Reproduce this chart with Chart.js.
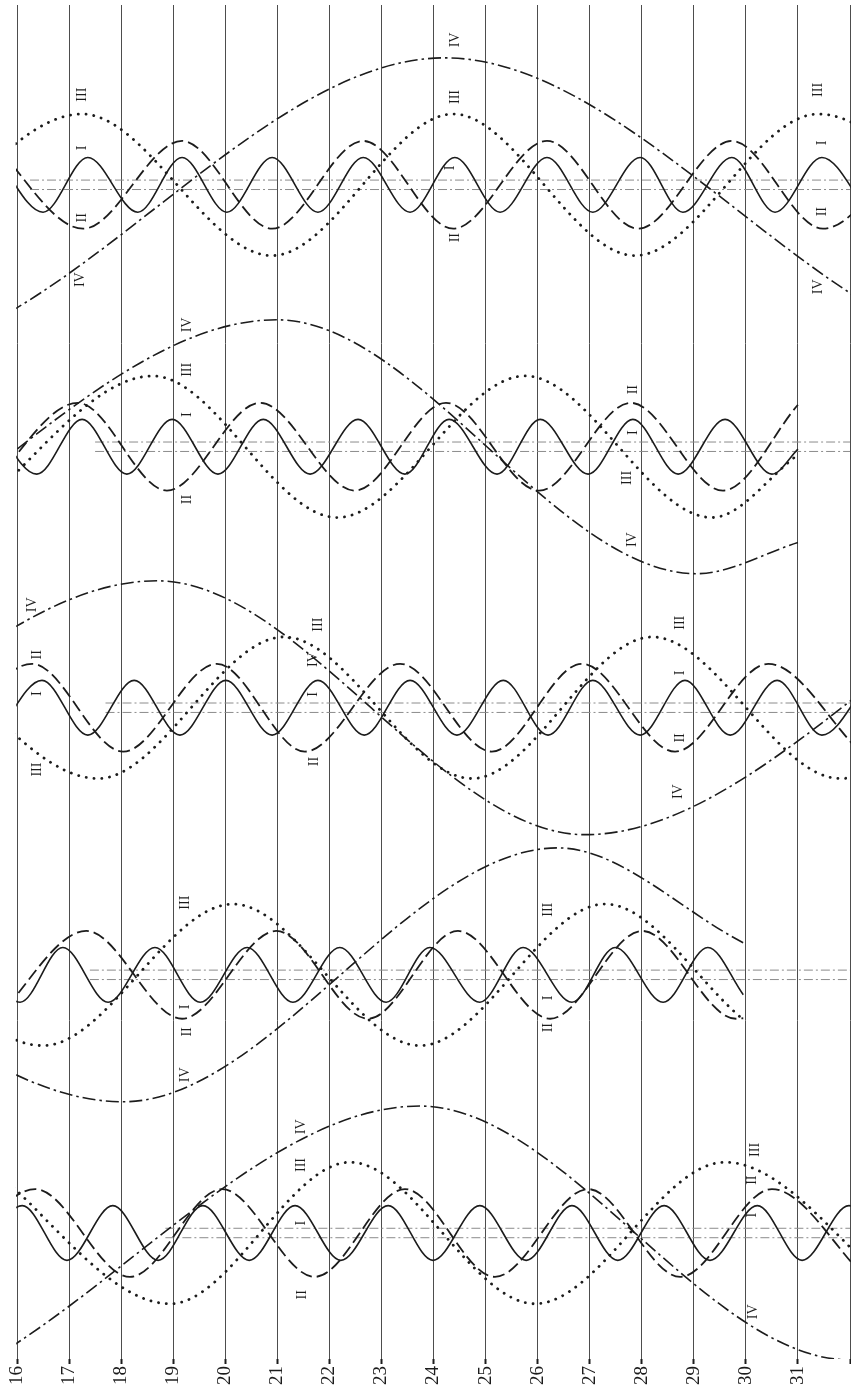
<!DOCTYPE html>
<html><head><meta charset="utf-8">
<script src="https://cdn.jsdelivr.net/npm/chart.js@4.4.1/dist/chart.umd.min.js"></script>
<style>html,body{margin:0;padding:0;background:#fff;}#wrap{width:851px;height:1389px;}</style>
</head><body><div id="wrap"><canvas id="c" width="851" height="1389"></canvas></div>
<script>
// Days of the month along the horizontal axis
const dayTicks = [16,17,18,19,20,21,22,23,24,25,26,27,28,29,30,31,32];
const dayLabels = ['16','17','18','19','20','21','22','23','24','25','26','27','28','29','30','31',''];

// Each series: [day, elongation in Jupiter radii] read at maxima/minima (and ends)
const band1I = [[15.60,5.8],[16.50,-5.8],[17.36,5.8],[18.32,-5.8],[19.17,5.8],[20.03,-5.8],[20.90,5.8],[21.78,-5.8],[22.65,5.8],[23.55,-5.8],[24.41,5.8],[25.28,-5.8],[26.18,5.8],[27.06,-5.8],[27.97,5.8],[28.79,-5.8],[29.73,5.8],[30.56,-5.8],[31.46,5.8],[32.35,-5.8]];
const band1II = [[15.50,9.3],[17.27,-9.3],[19.17,9.3],[20.90,-9.3],[22.65,9.3],[24.38,-9.3],[26.18,9.3],[27.93,-9.3],[29.73,9.3],[31.48,-9.3],[33.25,9.3]];
const band1III = [[13.68,-15.0],[17.25,15.0],[20.90,-15.0],[24.38,15.0],[27.87,-15.0],[31.39,15.0],[34.96,-15.0]];
const band1IV = [[15.87,-26.9],[24.22,26.9],[32.58,-26.9]];

const band2I = [[15.50,5.8],[16.38,-5.8],[17.25,5.8],[18.11,-5.8],[18.98,5.8],[19.86,-5.8],[20.73,5.8],[21.63,-5.8],[22.55,5.8],[23.45,-5.8],[24.30,5.8],[25.22,-5.8],[26.05,5.8],[26.97,-5.8],[27.83,5.8],[28.70,-5.8],[29.60,5.8],[30.50,-5.8],[31.00,-0.5]];
const band2II = [[15.40,-9.3],[17.17,9.3],[18.88,-9.3],[20.67,9.3],[22.49,-9.3],[24.24,9.3],[26.03,-9.3],[27.79,9.3],[29.56,-9.3],[31.00,8.9]];
const band2III = [[15.04,-15.0],[18.61,15.0],[22.15,-15.0],[25.76,15.0],[29.35,-15.0],[31.00,-1.7]];
const band2IV = [[12.73,-26.9],[20.99,26.9],[29.06,-26.9],[31.00,-20.3]];

const band3I = [[15.60,-5.8],[16.48,5.8],[17.36,-5.8],[18.25,5.8],[19.13,-5.8],[20.01,5.8],[20.90,-5.8],[21.78,5.8],[22.67,-5.8],[23.55,5.8],[24.45,-5.8],[25.34,5.8],[26.20,-5.8],[27.06,5.8],[27.97,-5.8],[28.83,5.8],[29.70,-5.8],[30.60,5.8],[31.46,-5.8],[32.37,5.8]];
const band3II = [[14.52,-9.3],[16.29,9.3],[18.04,-9.3],[19.84,9.3],[21.53,-9.3],[23.36,9.3],[25.12,-9.3],[26.85,9.3],[28.64,-9.3],[30.43,9.3],[32.19,-9.3]];
const band3III = [[13.98,15.0],[17.56,-15.0],[21.13,15.0],[24.74,-15.0],[28.20,15.0],[31.81,-15.0],[35.40,15.0]];
const band3IV = [[10.43,-26.9],[18.69,26.9],[26.91,-26.9],[35.17,26.9]];

const band4I = [[15.19,5.8],[16.06,-5.8],[16.88,5.8],[17.75,-5.8],[18.65,5.8],[19.52,-5.8],[20.42,5.8],[21.30,-5.8],[22.20,5.8],[23.09,-5.8],[23.93,5.8],[24.89,-5.8],[25.72,5.8],[26.66,-5.8],[27.49,5.8],[28.41,-5.8],[29.27,5.8],[29.95,-4.2]];
const band4II = [[15.60,-9.3],[17.33,9.3],[19.17,-9.3],[20.98,9.3],[22.74,-9.3],[24.47,9.3],[26.24,-9.3],[28.01,9.3],[29.81,-9.3],[29.95,-9.2]];
const band4III = [[12.93,15.0],[16.50,-15.0],[20.15,15.0],[23.74,-15.0],[27.30,15.0],[29.95,-9.5]];
const band4IV = [[9.68,26.9],[18.04,-26.9],[26.39,26.9],[29.95,6.8]];

const band5I = [[15.23,-5.8],[16.10,5.8],[16.96,-5.8],[17.84,5.8],[18.71,-5.8],[19.57,5.8],[20.46,-5.8],[21.34,5.8],[22.22,-5.8],[23.13,5.8],[23.99,-5.8],[24.89,5.8],[25.78,-5.8],[26.66,5.8],[27.54,-5.8],[28.43,5.8],[29.31,-5.8],[30.22,5.8],[31.08,-5.8],[31.98,5.8],[32.87,-5.8]];
const band5II = [[14.58,-9.3],[16.35,9.3],[18.17,-9.3],[19.94,9.3],[21.72,-9.3],[23.45,9.3],[25.18,-9.3],[26.97,9.3],[28.74,-9.3],[30.50,9.3],[32.29,-9.3]];
const band5III = [[15.37,15.0],[18.94,-15.0],[22.40,15.0],[25.95,-15.0],[29.60,15.0],[33.17,-15.0]];
const band5IV = [[15.48,-26.9],[23.74,26.9],[32.00,-26.9],[40.30,26.9]];

// Jupiter's disk (limb lines at +/-1 radius): start/end day of the drawn line per band
const diskStart = [16.25, 17.5, 17.7, 17.4, 18.85];
const diskEnd = [32, 32, 32, 32, 32];

// Satellite labels: [numeral, day, elongation]
const labels1 = [['III',17.25,19.1],['I',17.25,7.8],['II',17.25,-7.0],['IV',17.21,-20.1],['IV',24.41,30.7],['III',24.41,18.6],['I',24.32,3.6],['II',24.41,-11.2],['III',31.39,20.1],['I',31.46,8.9],['II',31.46,-5.7],['IV',31.39,-21.6]];
const labels2 = [['IV',19.27,25.8],['III',19.27,16.3],['I',19.27,6.8],['II',19.27,-11.2],['II',27.83,12.1],['I',27.83,3.0],['III',27.72,-6.6],['IV',27.81,-19.7]];
const labels3 = [['IV',16.29,21.8],['II',16.40,11.2],['I',16.40,3.0],['III',16.40,-13.1],['III',21.78,17.6],['IV',21.69,10.2],['I',21.69,2.8],['II',21.72,-11.4],['III',28.74,18.0],['I',28.74,7.4],['II',28.74,-6.4],['IV',28.70,-17.8]];
const labels4 = [['III',19.23,15.3],['I',19.23,-6.8],['II',19.28,-12.1],['IV',19.23,-21.2],['III',26.20,13.8],['I',26.20,-4.9],['II',26.20,-11.2]];
const labels5 = [['IV',21.47,22.5],['III',21.47,14.4],['I',21.47,2.1],['II',21.49,-13.1],['III',30.18,17.6],['II',30.12,11.2],['I',30.12,3.8],['IV',30.14,-16.7]];

// ---- layout (positions / styles) ----
const bandCenter = [-38.1, -93.6, -148.9, -205.5, -260.2];
const Y_MIN = -286.9, Y_MAX = 0;
const INK = '#1c1c1c';
const styles = {
  I:   {borderDash: [], borderWidth: 1.6, borderCapStyle: 'butt'},
  II:  {borderDash: [12,5], borderWidth: 1.8, borderCapStyle: 'butt'},
  III: {borderDash: [0.1,7.7], borderWidth: 2.8, borderCapStyle: 'round'},
  IV:  {borderDash: [13,4,2.5,4], borderWidth: 1.6, borderCapStyle: 'butt'}
};

const bands = [
  {I: band1I, II: band1II, III: band1III, IV: band1IV, labels: labels1},
  {I: band2I, II: band2II, III: band2III, IV: band2IV, labels: labels2},
  {I: band3I, II: band3II, III: band3III, IV: band3IV, labels: labels3},
  {I: band4I, II: band4II, III: band4III, IV: band4IV, labels: labels4},
  {I: band5I, II: band5II, III: band5III, IV: band5IV, labels: labels5}
];

const datasets = [];
bands.forEach((b, bi) => {
  ['I','II','III','IV'].forEach(s => {
    datasets.push(Object.assign({
      label: 'Band ' + (bi+1) + ' ' + s,
      data: b[s].map(p => ({x: p[0], y: bandCenter[bi] + p[1]})),
      borderColor: INK,
      pointRadius: 0,
      fill: false,
      cubicInterpolationMode: 'monotone'
    }, styles[s]));
  });
});
bands.forEach((b, bi) => {
  [1, -1].forEach(sg => {
    datasets.push({
      label: 'disk ' + (bi+1),
      data: [{x: diskStart[bi], y: bandCenter[bi] + sg}, {x: diskEnd[bi], y: bandCenter[bi] + sg}],
      borderColor: '#8c8c8c', borderWidth: 1, borderDash: [9,3,2,3],
      pointRadius: 0, fill: false, tension: 0
    });
  });
});

const numeralPlugin = {
  id: 'numerals',
  afterDatasetsDraw(chart) {
    const ctx = chart.ctx, xs = chart.scales.x, ys = chart.scales.y;
    ctx.save();
    ctx.fillStyle = '#1c1c1c';
    ctx.font = '14px "Liberation Serif", "DejaVu Serif", serif';
    ctx.textAlign = 'center';
    ctx.textBaseline = 'middle';
    bands.forEach((b, bi) => {
      b.labels.forEach(([t, d, v]) => {
        const px = xs.getPixelForValue(d), py = ys.getPixelForValue(bandCenter[bi] + v);
        ctx.save();
        ctx.translate(px, py);
        ctx.rotate(-Math.PI / 2);
        ctx.fillText(t, 0, 0);
        ctx.restore();
      });
    });
    ctx.restore();
  }
};

const bgPlugin = {
  id: 'bg',
  beforeDraw(chart) {
    const ctx = chart.ctx;
    ctx.save(); ctx.fillStyle = '#ffffff'; ctx.fillRect(0, 0, chart.width, chart.height); ctx.restore();
  }
};

new Chart(document.getElementById('c'), {
  type: 'line',
  data: {datasets},
  options: {
    responsive: false,
    animation: false,
    devicePixelRatio: 1,
    layout: {padding: {top: 5, left: 17, right: 1, bottom: 0}},
    plugins: {legend: {display: false}, tooltip: {enabled: false}},
    scales: {
      x: {
        type: 'linear',
        bounds: 'data',
        afterDataLimits: s => { s.min = 16; s.max = 32; },
        afterBuildTicks: s => { s.ticks = dayTicks.map(v => ({value: v})); },
        afterFit: s => { s.height = 30; s.paddingLeft = 0; s.paddingRight = 0; },
        ticks: {
          autoSkip: false, minRotation: 90, maxRotation: 90, padding: 2,
          color: '#1c1c1c',
          font: {family: '"Liberation Serif", "DejaVu Serif", serif', size: 19},
          callback: (v, i) => dayLabels[i]
        },
        grid: {color: '#4d4d4d', lineWidth: 1, tickLength: 5, tickColor: '#1c1c1c', tickWidth: 2},
        border: {display: false}
      },
      y: {
        type: 'linear', display: false, min: Y_MIN, max: Y_MAX
      }
    }
  },
  plugins: [bgPlugin, numeralPlugin]
});
</script></body></html>
